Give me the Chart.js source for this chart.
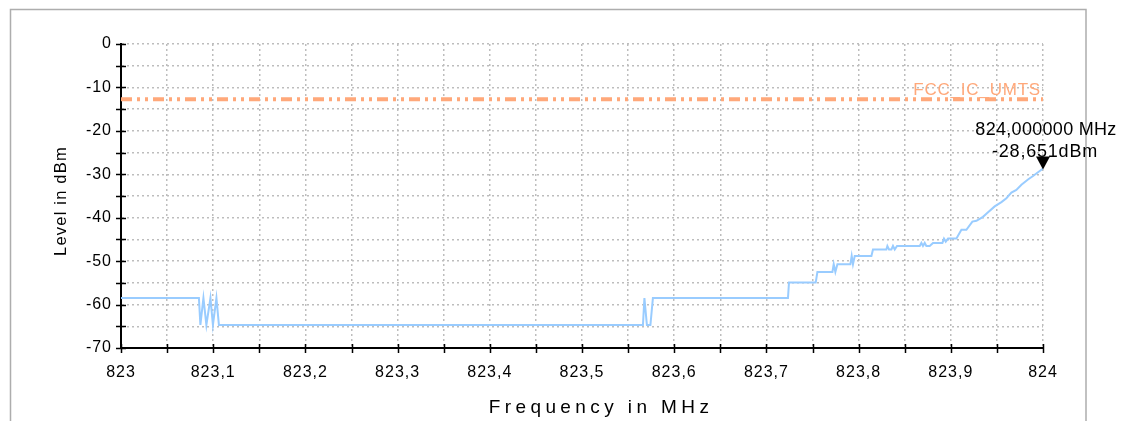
<!DOCTYPE html>
<html>
<head>
<meta charset="utf-8">
<script src="https://cdn.jsdelivr.net/npm/chart.js@4.4.1/dist/chart.umd.min.js"></script>
<style>
  html, body { margin: 0; padding: 0; background: #fff; }
  #wrap { width: 1123px; height: 421px; position: relative; }
</style>
</head>
<body>
<div id="wrap"><canvas id="spectrum"></canvas></div>
<script>
// Sweep trace (MHz, dBm)
const freqMHz = [
  823.0, 823.0845, 823.0861, 823.0894, 823.0926, 823.0970, 823.0997, 823.1035, 823.1062,
  823.5661, 823.5677, 823.5704, 823.5742, 823.5769,
  823.7234, 823.7245, 823.7535, 823.7553, 823.7716, 823.7730, 823.7748, 823.7770,
  823.7911, 823.7925, 823.7939, 823.7958, 823.8139, 823.8156, 823.8301, 823.8312,
  823.8330, 823.8356, 823.8373, 823.8392, 823.8417, 823.8663, 823.8681, 823.8698,
  823.8717, 823.8735, 823.8771, 823.8807, 823.8909, 823.8926, 823.8945, 823.8970,
  823.9061, 823.9115, 823.9169, 823.9234, 823.9278, 823.9349, 823.9386, 823.9476,
  823.9549, 823.9603, 823.9657, 823.9711, 823.9766, 823.9837, 823.9892, 824.0
];
const levelDBm = [
  -58.5, -58.5, -64.7, -58.5, -64.7, -58.5, -64.7, -58.5, -64.7,
  -64.7, -58.5, -64.7, -64.7, -58.5,
  -58.5, -54.9, -54.9, -52.5, -52.5, -50.7, -52.5, -50.7,
  -50.7, -48.8, -50.7, -48.8, -48.8, -47.3, -47.3, -46.5,
  -47.3, -47.3, -46.5, -47.3, -46.5, -46.5, -45.8, -46.5,
  -45.8, -46.5, -46.5, -45.8, -45.8, -44.8, -45.5, -44.8,
  -44.8, -42.8, -42.8, -40.9, -40.7, -39.8, -39.1, -37.4,
  -36.4, -35.5, -34.2, -33.6, -32.4, -31.2, -30.4, -28.651
];

// Limit line
const limitName = 'FCC_IC_UMTS';
const limitFreq = [823.0, 824.0];
const limitLevel = [-12.7, -12.7];

// Marker
const markerFreq = 824.0;
const markerLevel = -28.651;
const markerText = ['824,000000 MHz', '-28,651dBm'];

const xTitle = 'Frequency in MHz';
const yTitle = 'Level in dBm';

const FONT = "'Liberation Sans', Arial, sans-serif";
const traceColor = 'rgb(153, 204, 255)';
const limitColor = 'rgb(255, 168, 122)';

const fmtFreq = v => {
  const r = Math.round(v * 100);
  if (r % 10 !== 0) return '';
  let s = (r / 100).toFixed(1);
  if (s.endsWith('.0')) s = s.slice(0, -2);
  return s.replace('.', ',');
};
const fmtLevel = v => (Math.round(v) % 10 === 0 ? String(Math.round(v)) : '');

// frame, crossing ticks, titles, limit label, marker
const decorations = {
  id: 'decorations',
  beforeDraw(chart) {
    const ctx = chart.ctx;
    ctx.save();
    ctx.fillStyle = '#fff';
    ctx.fillRect(0, 0, chart.width, chart.height);
    ctx.strokeStyle = '#adadad';
    ctx.lineWidth = 1.5;
    ctx.strokeRect(10.5, 9.5, 1075.5, 440);
    ctx.restore();
    ctx.letterSpacing = '1px';
  },
  afterDraw(chart) {
    const ctx = chart.ctx;
    const xs = chart.scales.x, ys = chart.scales.y;
    const area = chart.chartArea;
    ctx.save();
    ctx.letterSpacing = '0px';
    ctx.strokeStyle = '#000';
    ctx.lineWidth = 1.5;
    ctx.beginPath();
    xs.ticks.forEach(t => {
      const px = Math.round(xs.getPixelForValue(t.value)) + 0.5;
      ctx.moveTo(px, area.bottom - 4);
      ctx.lineTo(px, area.bottom + 5);
    });
    ys.ticks.forEach(t => {
      const py = Math.round(ys.getPixelForValue(t.value)) + 0.5;
      ctx.moveTo(area.left - 5, py);
      ctx.lineTo(area.left + 5, py);
    });
    ctx.stroke();

    // axis titles
    ctx.fillStyle = '#000';
    ctx.textBaseline = 'middle';
    ctx.textAlign = 'center';
    ctx.font = '19px ' + FONT;
    ctx.letterSpacing = '4.4px';
    ctx.fillText(xTitle, 601, 408);
    ctx.save();
    ctx.translate(61, 201);
    ctx.rotate(-Math.PI / 2);
    ctx.font = '16.5px ' + FONT;
    ctx.letterSpacing = '1.2px';
    ctx.fillText(yTitle, 0, 0);
    ctx.restore();

    // limit label
    const ly = ys.getPixelForValue(limitLevel[1]);
    ctx.fillStyle = limitColor;
    ctx.textAlign = 'right';
    ctx.font = '17px ' + FONT;
    ctx.letterSpacing = '0.8px';
    ctx.fillText(limitName, xs.getPixelForValue(limitFreq[1]) - 2, ly - 9);

    // marker
    const mx = xs.getPixelForValue(markerFreq);
    const my = ys.getPixelForValue(markerLevel);
    ctx.fillStyle = '#000';
    ctx.beginPath();
    ctx.moveTo(mx - 7, my - 12);
    ctx.lineTo(mx + 7, my - 12);
    ctx.lineTo(mx, my + 1);
    ctx.closePath();
    ctx.fill();
    ctx.textAlign = 'center';
    ctx.font = '18px ' + FONT;
    ctx.letterSpacing = '0.3px';
    ctx.fillText(markerText[0], mx + 3, my - 38);
    ctx.letterSpacing = '0.8px';
    ctx.fillText(markerText[1], mx + 2, my - 16);
    ctx.restore();
  }
};

new Chart(document.getElementById('spectrum'), {
  type: 'scatter',
  data: {
    datasets: [
      {
        label: limitName,
        data: limitFreq.map((f, i) => ({ x: f, y: limitLevel[i] })),
        showLine: true,
        borderColor: limitColor,
        borderWidth: 4,
        borderDash: [11, 5, 3, 5, 3, 5],
        pointRadius: 0,
      },
      {
        label: 'Trace',
        data: freqMHz.map((f, i) => ({ x: f, y: levelDBm[i] })),
        showLine: true,
        borderColor: traceColor,
        borderWidth: 2,
        pointRadius: 0,
        tension: 0,
      },
    ],
  },
  options: {
    responsive: true,
    maintainAspectRatio: false,
    animation: false,
    layout: { padding: { left: 0, top: 44, right: 80, bottom: 0 } },
    plugins: {
      legend: { display: false },
      tooltip: { enabled: false },
    },
    scales: {
      x: {
        type: 'linear',
        min: 823,
        max: 824,
        afterFit: s => { s.height = 73; },
        ticks: {
          stepSize: 0.05,
          autoSkip: false,
          maxRotation: 0,
          padding: 15,
          color: '#000',
          font: { family: FONT, size: 16 },
          callback: fmtFreq,
        },
        grid: { color: '#bdbdbd', lineWidth: 1.5, drawTicks: false },
        border: { color: '#000', width: 2, dash: [2, 3] },
      },
      y: {
        min: -70,
        max: 0,
        afterFit: s => { s.width = 121; },
        ticks: {
          stepSize: 5,
          autoSkip: false,
          padding: 9,
          color: '#000',
          font: { family: FONT, size: 16 },
          callback: fmtLevel,
        },
        grid: { color: '#bdbdbd', lineWidth: 1.5, drawTicks: false },
        border: { color: '#000', width: 2, dash: [2, 3] },
      },
    },
  },
  plugins: [decorations],
});
</script>
</body>
</html>
